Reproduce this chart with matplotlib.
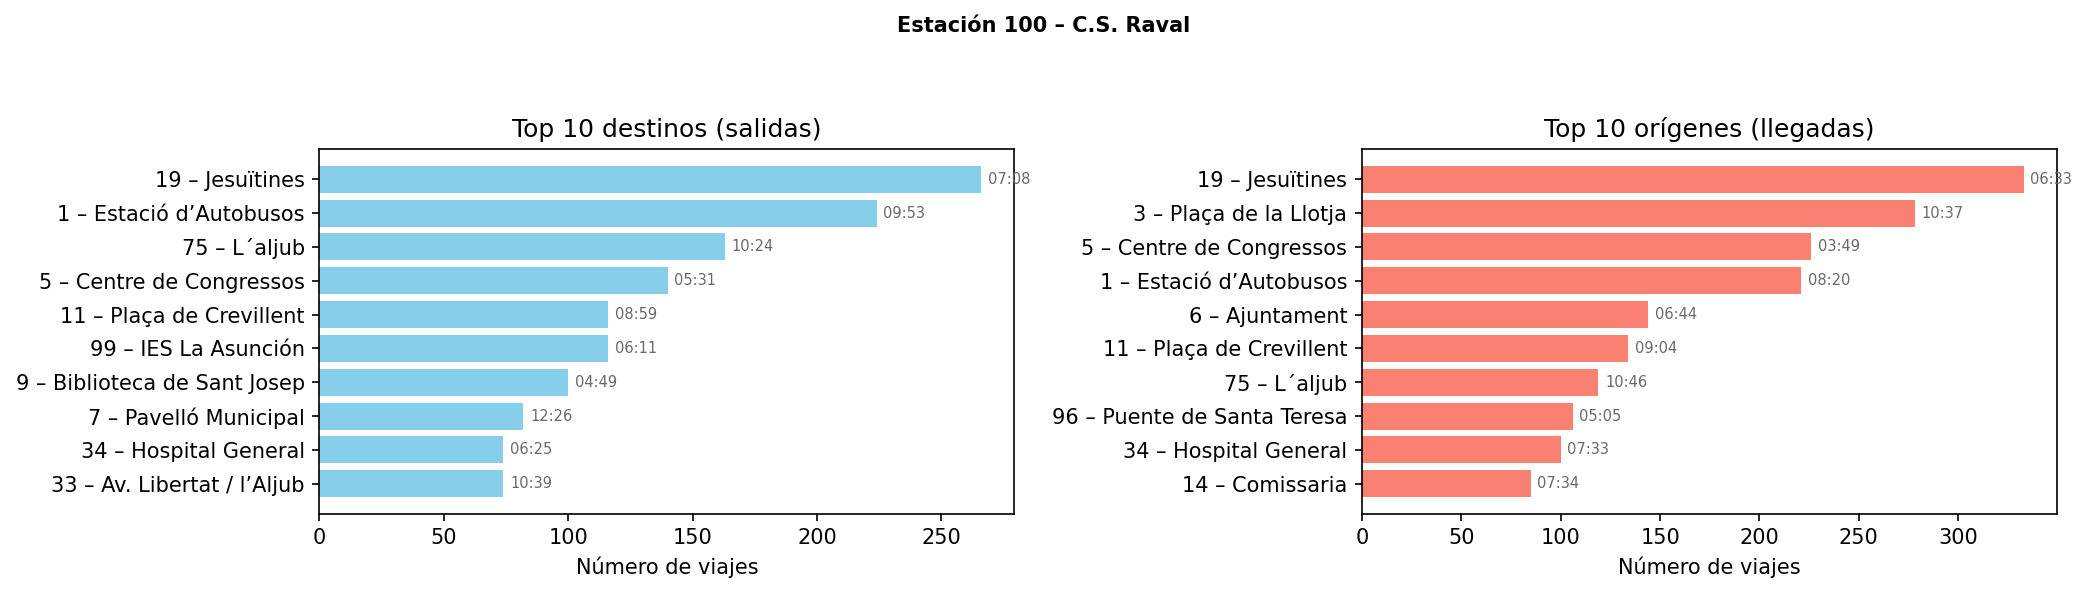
import matplotlib.pyplot as plt

# Estación 100 – C.S. Raval: top 10 destinos / orígenes
dest_names = [
    "19 – Jesuïtines",
    "1 – Estació d’Autobusos",
    "75 – L´aljub",
    "5 – Centre de Congressos",
    "11 – Plaça de Crevillent",
    "99 – IES La Asunción",
    "9 – Biblioteca de Sant Josep",
    "7 – Pavelló Municipal",
    "34 – Hospital General",
    "33 – Av. Libertat / l’Aljub",
]
dest_trips = [266, 224, 163, 140, 116, 116, 100, 82, 74, 74]
dest_times = ["07:08", "09:53", "10:24", "05:31", "08:59", "06:11", "04:49", "12:26", "06:25", "10:39"]

orig_names = [
    "19 – Jesuïtines",
    "3 – Plaça de la Llotja",
    "5 – Centre de Congressos",
    "1 – Estació d’Autobusos",
    "6 – Ajuntament",
    "11 – Plaça de Crevillent",
    "75 – L´aljub",
    "96 – Puente de Santa Teresa",
    "34 – Hospital General",
    "14 – Comissaria",
]
orig_trips = [333, 278, 226, 221, 144, 134, 119, 106, 100, 85]
orig_times = ["06:33", "10:37", "03:49", "08:20", "06:44", "09:04", "10:46", "05:05", "07:33", "07:34"]


def plot_top(ax, names, trips, times, color, title):
    ypos = list(range(len(names)))
    ax.barh(ypos, trips, color=color)
    ax.set_yticks(ypos)
    ax.set_yticklabels(names)
    ax.invert_yaxis()
    top = max(trips)
    for y, v, t in zip(ypos, trips, times):
        ax.text(v + top * 0.01, y, t, va="center", fontsize=7, color="dimgray")
    ax.set_title(title, fontsize=12)
    ax.set_xlabel("Número de viajes")


fig, axes = plt.subplots(1, 2, figsize=(2087 / 150, 594 / 150), dpi=150)
plot_top(axes[0], dest_names, dest_trips, dest_times, "skyblue", "Top 10 destinos (salidas)")
plot_top(axes[1], orig_names, orig_trips, orig_times, "salmon", "Top 10 orígenes (llegadas)")
fig.suptitle("Estación 100 – C.S. Raval", fontsize=10, fontweight="bold", y=0.973)
fig.subplots_adjust(left=0.153, right=0.9856, bottom=0.135, top=0.749, wspace=0.5)
fig.savefig("out.png", dpi=150)
